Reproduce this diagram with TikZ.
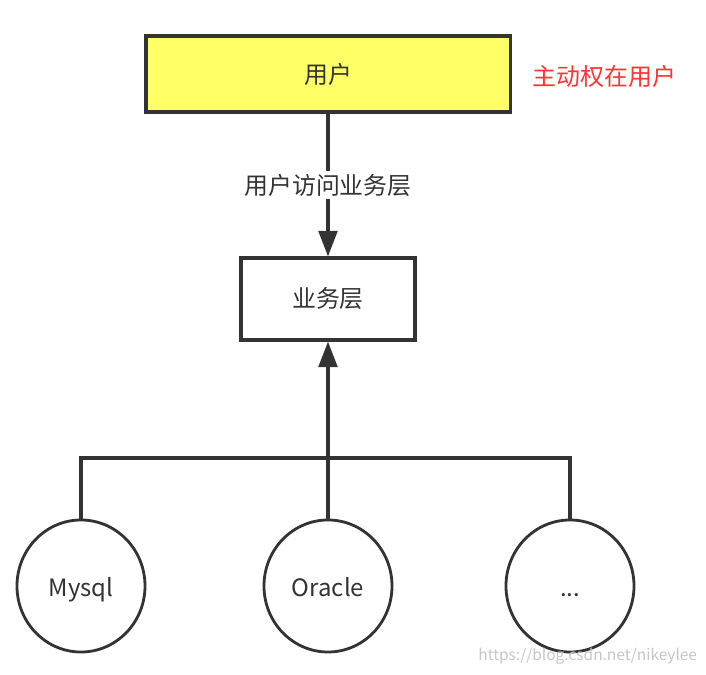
\documentclass[tikz,border=0pt]{standalone}
\usepackage{fontspec}
\setmainfont{Noto Sans CJK SC}
\usepackage{tikz}
\usetikzlibrary{arrows.meta, positioning, shapes.geometric}
\definecolor{lineGray}{HTML}{333333}
\definecolor{userYellow}{HTML}{FFFF66}
\definecolor{hintRed}{HTML}{FF3333}

\begin{document}
\begin{tikzpicture}[
    x=0.025cm, y=-0.025cm,
    every node/.style={font=\fontsize{17}{20}\selectfont, text=lineGray},
    box/.style={rectangle, draw=lineGray, line width=2.2pt, inner sep=0pt},
    db/.style={ellipse, draw=lineGray, line width=2pt, minimum width=3.2cm, minimum height=3.3cm, inner sep=0pt, text height=17pt, text depth=2pt},
    link/.style={draw=lineGray, line width=2.2pt},
    every edge/.style={link, -{Triangle[length=0.64cm, width=0.47cm]}}
]
\useasboundingbox (0,0) rectangle (706,675);
\node[box, fill=userYellow, minimum width=9.1cm, minimum height=1.9cm] (user) at (328,74) {用户};
\node[anchor=west, text=hintRed] (hint) at (528,76) {主动权在用户};
\node[box, minimum width=4.35cm, minimum height=2.05cm] (biz) at (328,299) {业务层};
\node[db] (mysql) at (81,586) {Mysql};
\node[db] (oracle) at (328,586) {Oracle};
\node[db] (more) at (570,586) {...};
\coordinate (bus) at (328,458);
\node[anchor=east, font=\fontsize{11}{13}\selectfont, text=gray!45] (mark) at (702,656) {https://blog.csdn.net/nikeylee};
% arrows
\draw (user) edge node[fill=white, inner sep=2pt] {用户访问业务层} (biz);
\draw (bus) edge (biz);
\draw[link] (mysql.north) |- (bus);
\draw[link] (more.north) |- (bus);
\draw[link] (oracle) -- (bus);
\end{tikzpicture}
\end{document}
